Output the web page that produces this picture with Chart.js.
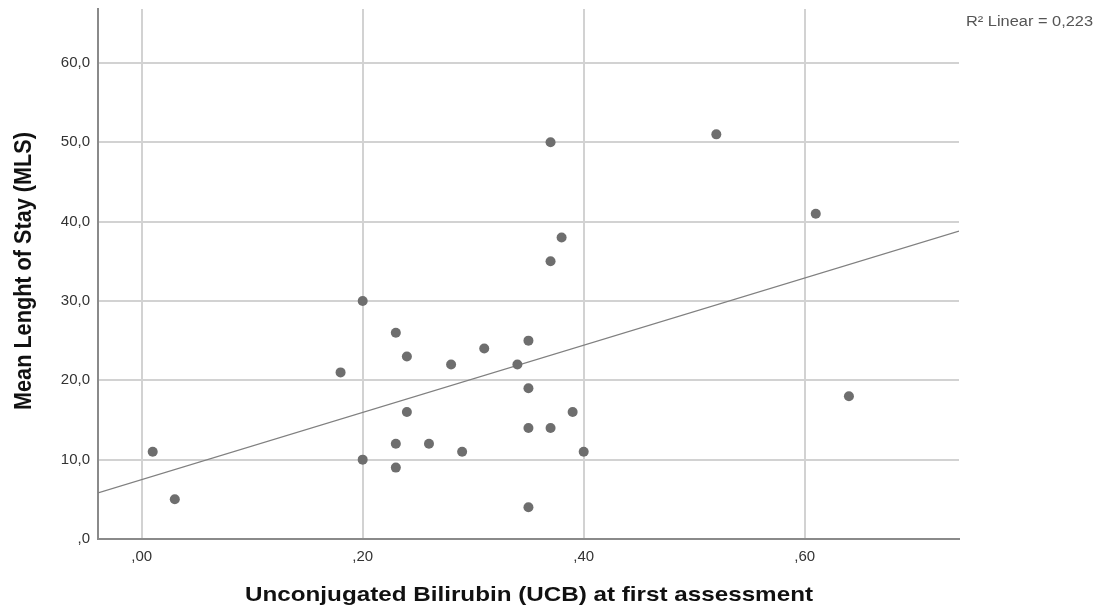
<!DOCTYPE html>
<html>
<head>
<meta charset="utf-8">
<script src="https://cdn.jsdelivr.net/npm/chart.js@4"></script>
<style>
  body { margin: 0; background: #fff; }
  #wrap { width: 1099px; height: 609px; }
</style>
</head>
<body>
<div id="wrap"><canvas id="c" width="1099" height="609"></canvas></div>
<script>
// UCB at first assessment vs mean length of stay
const ucb = [0.01, 0.03, 0.18, 0.20, 0.20, 0.23, 0.23, 0.23, 0.24, 0.24, 0.26, 0.28, 0.29, 0.31,
             0.34, 0.35, 0.35, 0.35, 0.35, 0.37, 0.37, 0.37, 0.38, 0.39, 0.40, 0.52, 0.61, 0.64];
const mls = [11, 5, 21, 30, 10, 26, 12, 9, 23, 16, 12, 22, 11, 24,
             22, 25, 19, 14, 4, 50, 35, 14, 38, 16, 11, 51, 41, 18];

// fit line end points
const fitX = [-0.0395, 0.7396];
const fitY = [5.8, 38.8];

const xTicks = [0, 0.2, 0.4, 0.6];
const yTicks = [0, 10, 20, 30, 40, 50, 60];
const r2Label = 'R\u00B2 Linear = 0,223';

const xTitle = 'Unconjugated Bilirubin (UCB) at first assessment';
const yTitle = 'Mean Lenght of Stay (MLS)';

// comma decimals like the SPSS output
function fmtX(v) {
  return v.toFixed(2).replace('0.', ',').replace('.', ',');
}
function fmtY(v) {
  if (v === 0) return ',0';
  return v.toFixed(1).replace('.', ',');
}

const points = ucb.map((x, i) => ({ x: x, y: mls[i] }));
const fitLine = fitX.map((x, i) => ({ x: x, y: fitY[i] }));

// the source picture is stretched sideways a little, so text is scaled to fit
function stretchedText(ctx, text, x, y, font, targetW, ky) {
  ctx.font = font;
  const w = ctx.measureText(text).width;
  ctx.save();
  ctx.translate(x, y);
  ctx.scale(targetW / w, ky || 1);
  ctx.fillText(text, 0, 0);
  ctx.restore();
}

// extra texts: axis titles and the R2 note
const textPlugin = {
  id: 'texts',
  afterDraw(chart) {
    const ctx = chart.ctx;
    ctx.save();
    ctx.fillStyle = '#111';
    ctx.textAlign = 'center';
    ctx.textBaseline = 'middle';
    stretchedText(ctx, xTitle, 529, 595, 'bold 20.5px "Liberation Sans", Arial, sans-serif', 568);

    ctx.save();
    ctx.translate(24, 271);
    ctx.rotate(-Math.PI / 2);
    stretchedText(ctx, yTitle, 0, 0, 'bold 20.5px "Liberation Sans", Arial, sans-serif', 278, 1.15);
    ctx.restore();

    ctx.fillStyle = '#555';
    ctx.textAlign = 'left';
    stretchedText(ctx, r2Label, 966, 22, '14px "Liberation Sans", Arial, sans-serif', 127);
    ctx.restore();
  }
};

new Chart(document.getElementById('c'), {
  type: 'scatter',
  data: {
    datasets: [
      {
        label: 'fit',
        type: 'line',
        data: fitLine,
        borderColor: '#808080',
        borderWidth: 1.2,
        pointRadius: 0,
        fill: false,
        order: 2
      },
      {
        label: 'MLS',
        data: points,
        backgroundColor: '#6e6e6e',
        borderColor: '#6e6e6e',
        borderWidth: 0,
        pointRadius: 5,
        pointStyle: 'circle',
        order: 1
      }
    ]
  },
  options: {
    responsive: false,
    animation: false,
    layout: { padding: { left: 0, right: 140, top: 9, bottom: 0 } },
    plugins: {
      legend: { display: false },
      tooltip: { enabled: false }
    },
    scales: {
      x: {
        type: 'linear',
        min: fitX[0],
        max: fitX[1],
        afterBuildTicks: (s) => { s.ticks = xTicks.map(v => ({ value: v })); },
        afterFit: (s) => { s.height = 70; s.paddingLeft = 0; s.paddingRight = 0; },
        grid: { color: '#d2d2d2', lineWidth: 2, drawTicks: false },
        border: { display: true, color: '#8a8a8a', width: 2 },
        ticks: {
          padding: 9,
          color: '#333',
          font: { size: 15, family: '"Liberation Sans", Arial, sans-serif' },
          callback: (v) => fmtX(v)
        }
      },
      y: {
        type: 'linear',
        min: 0,
        max: 66.8,
        afterBuildTicks: (s) => { s.ticks = yTicks.map(v => ({ value: v })); },
        afterFit: (s) => { s.width = 98; s.paddingTop = 0; s.paddingBottom = 0; },
        grid: { color: '#d2d2d2', lineWidth: 2, drawTicks: false },
        border: { display: true, color: '#8a8a8a', width: 2 },
        ticks: {
          padding: 8,
          color: '#333',
          font: { size: 15, family: '"Liberation Sans", Arial, sans-serif' },
          callback: (v) => fmtY(v)
        }
      }
    }
  },
  plugins: [textPlugin]
});
</script>
</body>
</html>
